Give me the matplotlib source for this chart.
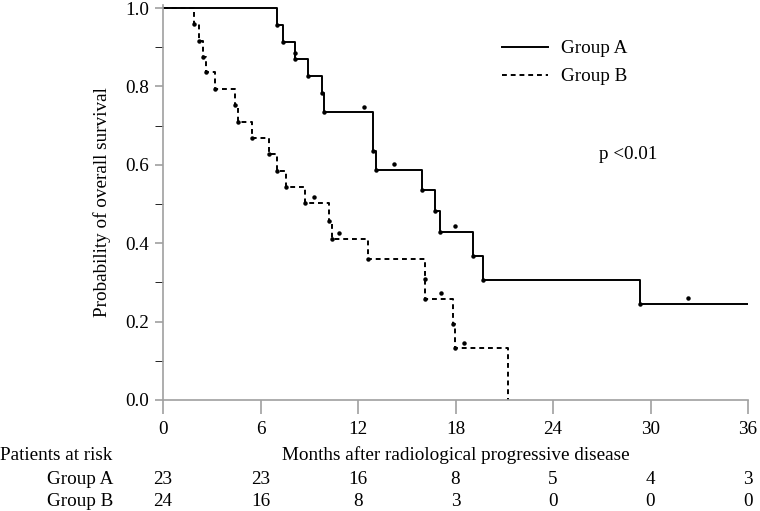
import matplotlib.pyplot as plt
from matplotlib.ticker import MultipleLocator

plt.rcParams['font.family'] = ['Liberation Serif', 'DejaVu Serif']

# step curves (time in months, survival probability)
a_time = [0, 7.0, 7.4, 8.15, 8.95, 9.8, 9.9, 12.9, 13.1, 15.95, 16.75, 17.05, 19.1, 19.7, 29.35, 36]
a_surv = [1.0, 0.957, 0.913, 0.870, 0.826, 0.783, 0.735, 0.636, 0.588, 0.535, 0.481, 0.428, 0.368, 0.307, 0.245, 0.245]
b_time = [0, 1.93, 2.2, 2.44, 2.65, 3.22, 4.42, 4.64, 5.5, 6.5, 7.0, 7.55, 8.72, 10.23, 10.42, 12.64, 16.15, 17.85, 17.95, 21.2]
b_surv = [1.0, 0.958, 0.917, 0.876, 0.836, 0.793, 0.752, 0.710, 0.669, 0.627, 0.585, 0.544, 0.502, 0.457, 0.411, 0.360, 0.258, 0.195, 0.132, 0.0]

# marks drawn as dots
a_dot_t = [7.0, 7.4, 8.15, 8.15, 8.95, 9.8, 9.9, 12.35, 12.9, 13.1, 14.2, 15.95, 16.75, 17.05, 17.95, 19.1, 19.7, 29.35, 32.3]
a_dot_s = [0.957, 0.913, 0.885, 0.870, 0.826, 0.783, 0.735, 0.748, 0.636, 0.588, 0.603, 0.535, 0.481, 0.428, 0.444, 0.368, 0.307, 0.245, 0.26]
b_dot_t = [1.93, 2.2, 2.44, 2.65, 3.22, 4.42, 4.64, 5.5, 6.5, 7.0, 7.55, 8.72, 9.29, 10.23, 10.42, 10.81, 12.64, 16.12, 16.15, 17.1, 17.85, 17.95, 18.5]
b_dot_s = [0.958, 0.917, 0.876, 0.836, 0.793, 0.752, 0.710, 0.669, 0.627, 0.585, 0.544, 0.502, 0.517, 0.457, 0.411, 0.427, 0.360, 0.309, 0.258, 0.274, 0.195, 0.132, 0.146]

risk_ticks = [0, 6, 12, 18, 24, 30, 36]
risk_a = [23, 23, 16, 8, 5, 4, 3]
risk_b = [24, 16, 8, 3, 0, 0, 0]

fs = 13.8

fig = plt.figure(figsize=(7.6, 5.11), dpi=100)
ax = fig.add_axes([163 / 760, 1 - 400 / 511, 585 / 760, 392 / 511 + 0.006])

ax.step(a_time, a_surv, where='post', color='black', lw=1.4, label='Group A')
ax.step(b_time, b_surv, where='post', color='black', lw=1.4, ls=(0, (2.5, 2)), label='Group B')
ax.plot(a_dot_t, a_dot_s, 'o', color='black', ms=2.2, ls='none')
ax.plot(b_dot_t, b_dot_s, 'o', color='black', ms=2.2, ls='none')

ax.set_xlim(0, 36)
ax.set_ylim(0, 1.0 + 0.006 / (392 / 511))
ax.set_xticks(risk_ticks)
ax.set_yticks([0, 0.2, 0.4, 0.6, 0.8, 1.0])
ax.set_yticklabels(['0.0', '0.2', '0.4', '0.6', '0.8', '1.0'])
ax.yaxis.set_minor_locator(MultipleLocator(0.1))
for s in ['top', 'right']:
    ax.spines[s].set_visible(False)
for s in ['left', 'bottom']:
    ax.spines[s].set_color('#a0a0a0')
    ax.spines[s].set_linewidth(1.2)
ax.tick_params(axis='both', colors='#a0a0a0', labelcolor='black', labelsize=fs, width=1.2)
ax.tick_params(axis='x', length=10, pad=5)
ax.tick_params(axis='y', which='both', length=6, pad=4)
ax.set_ylabel('Probability of overall survival', fontsize=fs, labelpad=10)

ax.legend(loc='upper left', bbox_to_anchor=(0.55, 0.955), frameon=False, fontsize=fs,
          handlelength=2.4, handletextpad=0.7, labelspacing=0.55)
ax.text(0.745, 0.61, 'p <0.01', transform=ax.transAxes, fontsize=fs)

tr = ax.get_xaxis_transform()
fig.text(0.0, 1 - 455 / 511, 'Patients at risk', fontsize=fs, va='center')
ax.text(18, (400 - 455) / 392, 'Months after radiological progressive disease', transform=tr,
        fontsize=fs, ha='center', va='center')
fig.text(113 / 760, 1 - 479 / 511, 'Group A', fontsize=fs, ha='right', va='center')
fig.text(113 / 760, 1 - 501 / 511, 'Group B', fontsize=fs, ha='right', va='center')
for t, na, nb in zip(risk_ticks, risk_a, risk_b):
    ax.text(t, (400 - 479) / 392, str(na), transform=tr, fontsize=fs, ha='center', va='center')
    ax.text(t, (400 - 501) / 392, str(nb), transform=tr, fontsize=fs, ha='center', va='center')

fig.savefig('out.png', dpi=100)
